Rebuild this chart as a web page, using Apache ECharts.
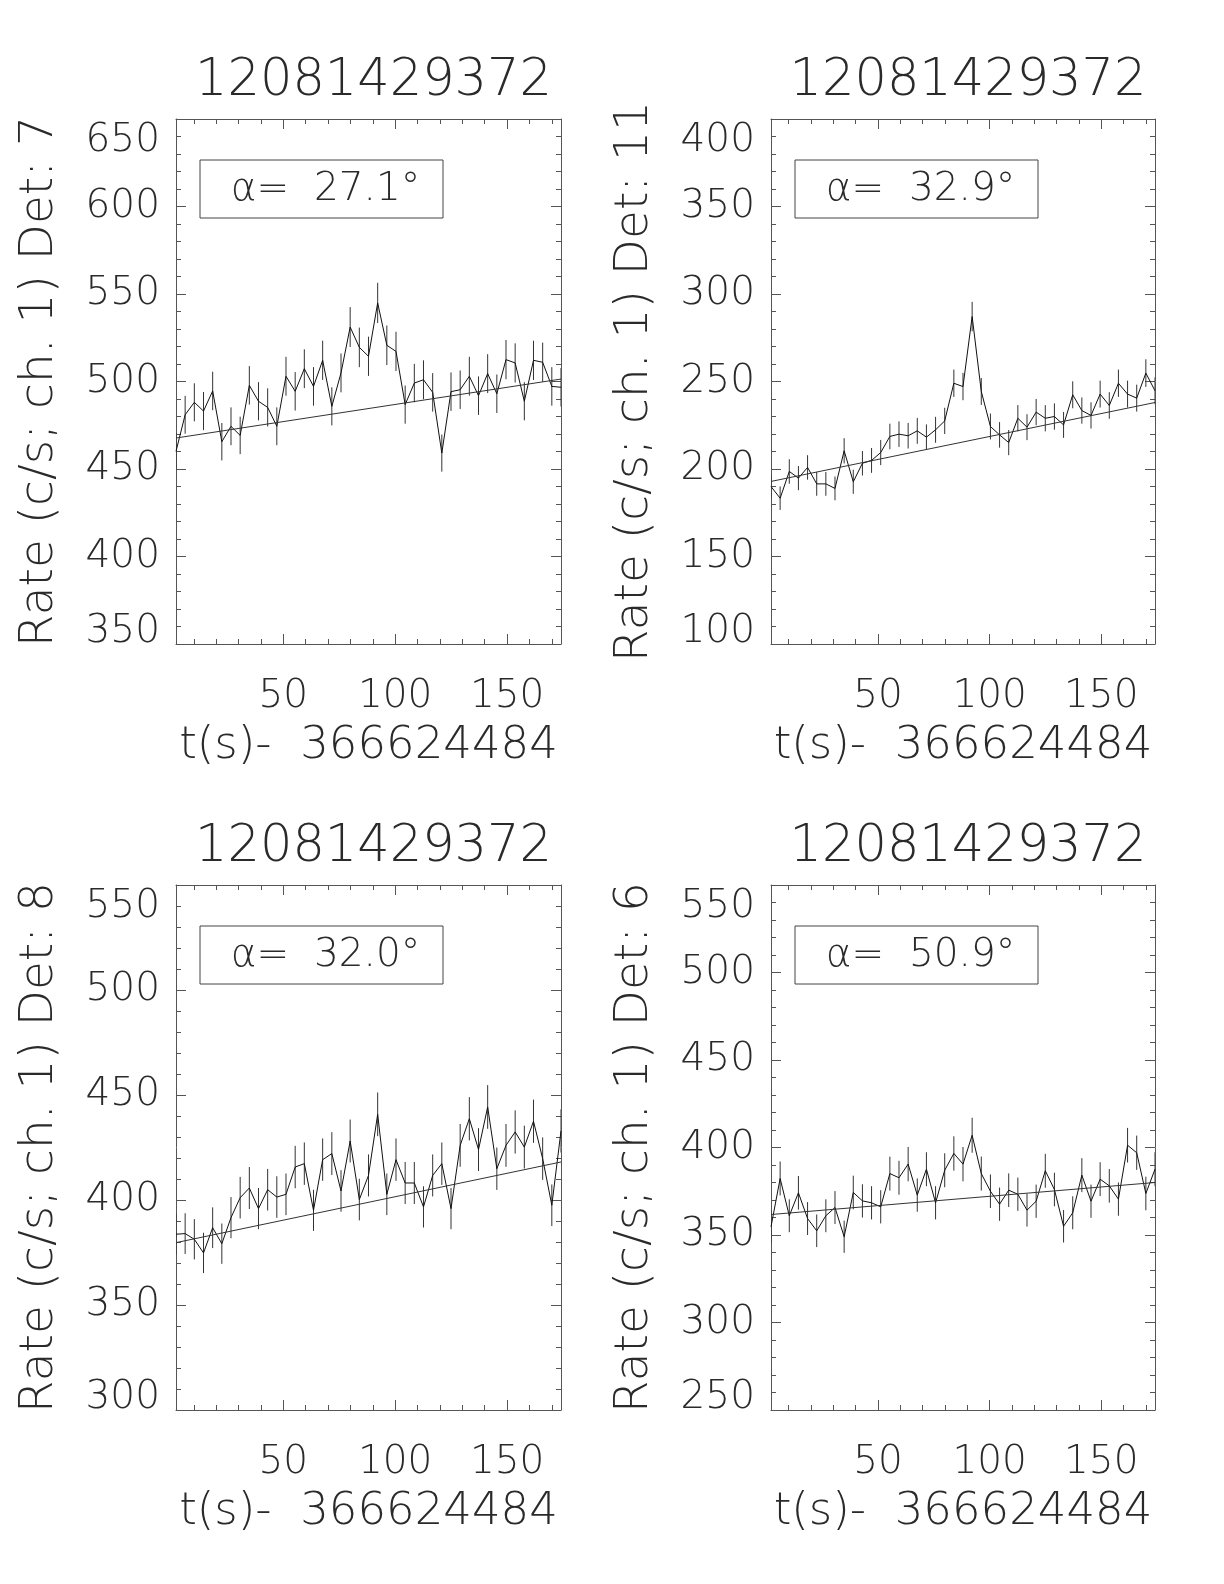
<!DOCTYPE html>
<html>
<head>
<meta charset="utf-8">
<script src="https://cdn.jsdelivr.net/npm/echarts@6/dist/echarts.min.js"></script>
<style>
html,body{margin:0;padding:0;background:#fff;}
#chart{width:1224px;height:1584px;}
</style>
</head>
<body>
<div id="chart"></div>
<script>
// ---------- DATA ----------
const titleText = '12081429372';
const xName = 't(s)-  366624484';
const yNames = ['Rate (c/s; ch. 1) Det: 7', 'Rate (c/s; ch. 1) Det: 11', 'Rate (c/s; ch. 1) Det: 8', 'Rate (c/s; ch. 1) Det: 6'];
const alphaVals = ['27.1', '32.9', '32.0', '50.9'];
const yMin = [350, 100, 300, 250];
const yMax = [650, 400, 550, 550];
const xMajorTicks = [50, 100, 150];
const xMinorTicks = [10, 20, 30, 40, 60, 70, 80, 90, 110, 120, 130, 140, 160, 170];

const timeBins = [2.05, 6.14, 10.24, 14.34, 18.43, 22.53, 26.62, 30.72, 34.82, 38.91, 43.01, 47.10, 51.20, 55.30, 59.39, 63.49, 67.58, 71.68, 75.78, 79.87, 83.97, 88.06, 92.16, 96.26, 100.35, 104.45, 108.54, 112.64, 116.74, 120.83, 124.93, 129.02, 133.12, 137.22, 141.31, 145.41, 149.50, 153.60, 157.70, 161.79, 165.89, 169.98, 174.08];

const rateDet7 = [460.1, 481.0, 488.1, 483.1, 494.6, 465.6, 474.4, 469.2, 497.8, 488.7, 485.2, 474.4, 503.0, 494.4, 507.3, 497.2, 512.1, 485.8, 504.9, 531.1, 519.5, 514.4, 544.9, 520.7, 517.2, 486.8, 499.1, 501.0, 493.8, 459.1, 494.2, 495.3, 503.0, 491.9, 504.5, 493.0, 512.5, 510.6, 488.7, 512.1, 511.0, 497.2, 496.7];
const errDet7 = [10.6, 10.8, 10.9, 10.9, 11.0, 10.7, 10.8, 10.7, 11.0, 10.9, 10.9, 10.8, 11.1, 11.0, 11.1, 11.0, 11.2, 10.9, 11.1, 11.4, 11.3, 11.2, 11.5, 11.3, 11.2, 10.9, 11.0, 11.1, 11.0, 10.6, 11.0, 11.0, 11.1, 11.0, 11.1, 11.0, 11.2, 11.2, 10.9, 11.2, 11.2, 11.0, 11.0];
const bgDet7 = [467.7, 501.4];

const rateDet11 = [190.0, 183.3, 198.6, 194.8, 200.9, 191.5, 191.5, 188.9, 210.4, 192.7, 203.3, 204.9, 209.4, 218.6, 219.9, 219.0, 221.8, 218.2, 222.4, 227.5, 249.0, 247.1, 287.1, 244.3, 224.3, 219.5, 215.1, 229.0, 223.9, 232.5, 229.0, 230.0, 225.2, 242.4, 233.4, 230.6, 242.8, 236.3, 249.0, 242.8, 240.5, 254.8, 244.7];
const errDet11 = [6.8, 6.7, 7.0, 6.9, 7.0, 6.8, 6.8, 6.8, 7.2, 6.9, 7.0, 7.1, 7.2, 7.3, 7.3, 7.3, 7.4, 7.3, 7.4, 7.5, 7.8, 7.8, 8.4, 7.7, 7.4, 7.3, 7.2, 7.5, 7.4, 7.5, 7.5, 7.5, 7.4, 7.7, 7.5, 7.5, 7.7, 7.6, 7.8, 7.7, 7.7, 7.9, 7.7];
const bgDet11 = [192.9, 238.0];

const rateDet8 = [383.7, 384.0, 381.3, 374.8, 386.8, 379.2, 391.6, 401.1, 405.7, 395.9, 404.9, 401.4, 402.7, 415.7, 417.3, 395.1, 419.2, 422.1, 404.3, 428.1, 400.2, 411.7, 440.8, 402.7, 419.2, 408.1, 408.1, 396.7, 411.7, 417.3, 395.9, 426.0, 438.7, 424.0, 444.3, 414.9, 426.0, 432.4, 425.2, 437.5, 419.7, 397.5, 432.9];
const errDet8 = [9.7, 9.7, 9.6, 9.6, 9.7, 9.6, 9.8, 9.9, 10.0, 9.8, 9.9, 9.9, 9.9, 10.1, 10.1, 9.8, 10.1, 10.2, 9.9, 10.2, 9.9, 10.0, 10.4, 9.9, 10.1, 10.0, 10.0, 9.8, 10.0, 10.1, 9.8, 10.2, 10.3, 10.2, 10.4, 10.1, 10.2, 10.3, 10.2, 10.3, 10.1, 9.9, 10.3];
const bgDet8 = [379.7, 418.1];

const rateDet6 = [354.7, 382.3, 361.0, 374.1, 359.4, 352.4, 361.0, 365.7, 349.0, 374.3, 369.5, 368.4, 366.1, 385.1, 382.7, 390.5, 372.8, 387.6, 368.4, 387.0, 396.6, 390.5, 407.0, 385.1, 375.0, 367.6, 375.6, 373.3, 364.2, 369.3, 386.7, 376.0, 355.0, 362.7, 384.2, 369.3, 381.9, 378.1, 370.5, 401.3, 397.0, 373.7, 387.6];
const errDet6 = [9.3, 9.7, 9.4, 9.6, 9.4, 9.3, 9.4, 9.4, 9.2, 9.6, 9.5, 9.5, 9.5, 9.7, 9.7, 9.8, 9.5, 9.7, 9.5, 9.7, 9.8, 9.8, 10.0, 9.7, 9.6, 9.5, 9.6, 9.5, 9.4, 9.5, 9.7, 9.6, 9.3, 9.4, 9.7, 9.5, 9.7, 9.6, 9.5, 9.9, 9.8, 9.6, 9.7];
const bgDet6 = [361.7, 380.0];

const rates = [rateDet7, rateDet11, rateDet8, rateDet6];
const errs = [errDet7, errDet11, errDet8, errDet6];
const bgs = [bgDet7, bgDet11, bgDet8, bgDet6];

// ---------- LAYOUT / STYLE ----------
const FONT = '"DejaVu Sans", sans-serif';
const FW = 200;
const TXT = '#2a2a2a';
const AX = '#555';
const grids = [
  {left: 176, top: 119, width: 385, height: 525},
  {left: 771, top: 119, width: 384, height: 525},
  {left: 176, top: 885, width: 385, height: 525},
  {left: 771, top: 885, width: 384, height: 525}
];

const option = {
  animation: false,
  backgroundColor: '#fff',
  grid: grids.map(g => Object.assign({containLabel: false}, g)),
  title: [], xAxis: [], yAxis: [], series: [], graphic: []
};

grids.forEach((g, p) => {
  const cx = g.left + g.width / 2;
  option.title.push({
    text: titleText, left: cx, top: g.top - 68, textAlign: 'center',
    textStyle: {fontFamily: FONT, fontWeight: FW, fontSize: 51, color: TXT}
  });
  const tStart = timeBins[0], tEnd = timeBins[timeBins.length - 1];
  const lineStyle = {color: AX, width: 1};
  // bottom major (labels + name)
  option.xAxis.push({
    gridIndex: p, type: 'value', min: tStart, max: tEnd, position: 'bottom',
    axisLine: {show: true, onZero: false, lineStyle},
    axisTick: {show: true, inside: true, length: 10, customValues: xMajorTicks, lineStyle},
    axisLabel: {show: true, customValues: xMajorTicks, margin: 33, fontFamily: FONT, fontWeight: FW, fontSize: 39, color: TXT},
    splitLine: {show: false},
    name: xName, nameLocation: 'middle', nameGap: 80,
    nameTextStyle: {fontFamily: FONT, fontWeight: FW, fontSize: 45, color: TXT}
  });
  // bottom minor
  option.xAxis.push({
    gridIndex: p, type: 'value', min: tStart, max: tEnd, position: 'bottom',
    axisLine: {show: false, onZero: false},
    axisTick: {show: true, inside: true, length: 5, customValues: xMinorTicks, lineStyle},
    axisLabel: {show: false}, splitLine: {show: false}
  });
  // top major
  option.xAxis.push({
    gridIndex: p, type: 'value', min: tStart, max: tEnd, position: 'top',
    axisLine: {show: true, onZero: false, lineStyle},
    axisTick: {show: true, inside: true, length: 10, customValues: xMajorTicks, lineStyle},
    axisLabel: {show: false}, splitLine: {show: false}
  });
  // top minor
  option.xAxis.push({
    gridIndex: p, type: 'value', min: tStart, max: tEnd, position: 'top',
    axisLine: {show: false, onZero: false},
    axisTick: {show: true, inside: true, length: 5, customValues: xMinorTicks, lineStyle},
    axisLabel: {show: false}, splitLine: {show: false}
  });
  // left y
  option.yAxis.push({
    gridIndex: p, type: 'value', min: yMin[p], max: yMax[p], interval: 50, position: 'left',
    axisLine: {show: true, onZero: false, lineStyle},
    axisTick: {show: true, inside: true, length: 10, lineStyle},
    minorTick: {show: true, splitNumber: 5, length: 5, lineStyle},
    axisLabel: {show: true, margin: 16, showMinLabel: true, showMaxLabel: true,
      verticalAlignMinLabel: 'bottom', verticalAlignMaxLabel: 'top',
      lineHeight: 24, padding: [10, 0, 0, 0],
      fontFamily: FONT, fontWeight: FW, fontSize: 39, color: TXT},
    splitLine: {show: false}, minorSplitLine: {show: false},
    name: yNames[p], nameLocation: 'middle', nameRotate: 90, nameGap: 113,
    nameTextStyle: {fontFamily: FONT, fontWeight: FW, fontSize: 47, color: TXT}
  });
  // right y
  option.yAxis.push({
    gridIndex: p, type: 'value', min: yMin[p], max: yMax[p], interval: 50, position: 'right',
    axisLine: {show: true, onZero: false, lineStyle},
    axisTick: {show: true, inside: true, length: 10, lineStyle},
    minorTick: {show: true, splitNumber: 5, length: 5, lineStyle},
    axisLabel: {show: false}, splitLine: {show: false}
  });

  const xi = p * 4, yi = p * 2;
  option.series.push({
    type: 'custom', xAxisIndex: xi, yAxisIndex: yi, clip: true,
    data: timeBins.map((t, i) => [t, rates[p][i], errs[p][i]]),
    renderItem: (params, api) => {
      const x = api.value(0), y = api.value(1), e = api.value(2);
      const a = api.coord([x, y - e]), b = api.coord([x, y + e]);
      return {type: 'line', shape: {x1: a[0], y1: a[1], x2: b[0], y2: b[1]},
        style: {stroke: '#333', lineWidth: 1}};
    }
  });
  option.series.push({
    type: 'line', xAxisIndex: xi, yAxisIndex: yi, showSymbol: false, clip: true,
    data: timeBins.map((t, i) => [t, rates[p][i]]),
    lineStyle: {color: '#111', width: 1}
  });
  option.series.push({
    type: 'line', xAxisIndex: xi, yAxisIndex: yi, showSymbol: false, clip: true,
    data: [[tStart, bgs[p][0]], [tEnd, bgs[p][1]]],
    lineStyle: {color: '#333', width: 1}
  });

  // alpha box
  const bx = g.left + 24, by = g.top + 41, bw = 243, bh = 58;
  option.graphic.push({
    type: 'rect', shape: {x: bx, y: by, width: bw, height: bh},
    style: {fill: 'none', stroke: '#444', lineWidth: 1}, silent: true
  });
  option.graphic.push({
    type: 'text', x: bx + bw / 2 + 4, y: by + bh / 2 + 1,
    style: {
      text: 'α=  ' + alphaVals[p] + '°', align: 'center', verticalAlign: 'middle',
      fontFamily: FONT, fontWeight: FW, fontSize: 39, fill: TXT
    }, silent: true
  });
});

const chart = echarts.init(document.getElementById('chart'), null, {renderer: 'canvas', width: 1224, height: 1584});
chart.setOption(option);
</script>
</body>
</html>
